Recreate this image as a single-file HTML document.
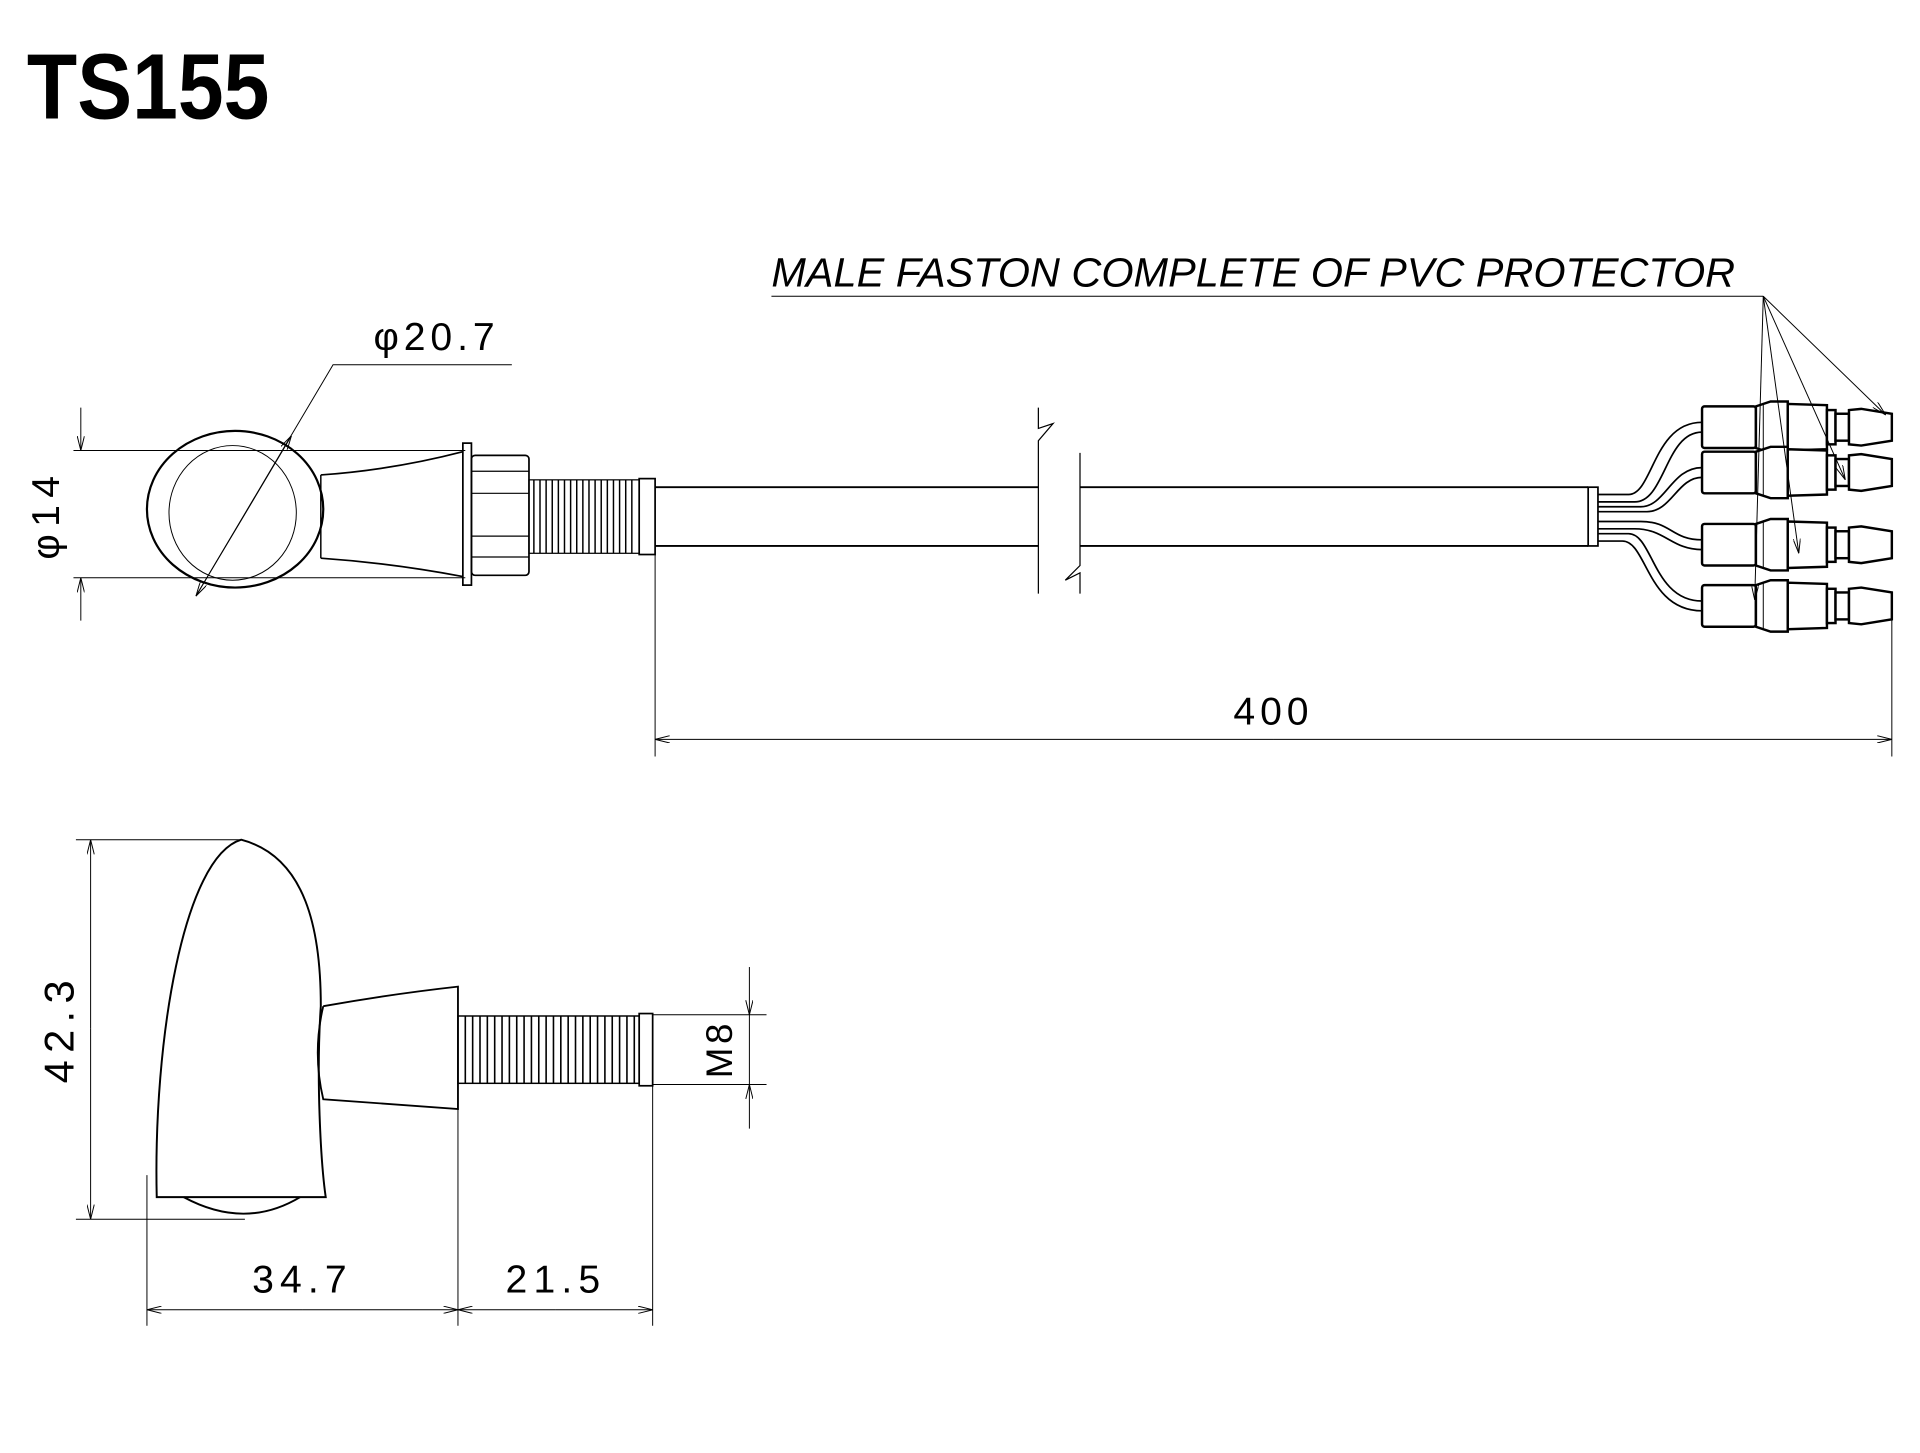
<!DOCTYPE html>
<html><head><meta charset="utf-8"><style>
html,body{margin:0;padding:0;background:#fff;}
svg{display:block;}
text{font-family:"Liberation Sans",sans-serif;fill:#000;}
</style></head><body>
<svg width="1920" height="1453" viewBox="0 0 1568 1187" preserveAspectRatio="none" xmlns="http://www.w3.org/2000/svg">
<defs>
<marker id="a" viewBox="0 0 12 6" refX="12" refY="3" markerWidth="12" markerHeight="6" orient="auto" markerUnits="userSpaceOnUse">
<path d="M0,0 L12,3 L0,6" fill="none" stroke="#000" stroke-width="0.8"/></marker>
<g id="conn" fill="#fff" stroke="#000" stroke-width="2">
<rect x="1390" y="-17" width="44" height="34" rx="2"/>
<path d="M1434,-17 L1446,-21 L1460,-21 L1460,21 L1446,21 L1434,17 Z"/>
<line x1="1440" y1="-19" x2="1440" y2="19" stroke-width="0.8"/>
<path d="M1460,-19 L1492,-18 L1492,18 L1460,19 Z"/>
<rect x="1492" y="-14" width="7" height="28"/>
<rect x="1499" y="-11" width="11" height="22"/>
<path d="M1510,-14 L1520,-15 L1545,-11 L1545,11 L1520,15 L1510,14 Z"/>
</g>
</defs>
<text x="22" y="97" font-size="76" font-weight="bold" style="font-family:'Liberation Sans Narrow','Liberation Sans',sans-serif" textLength="198" lengthAdjust="spacingAndGlyphs">TS155</text>

<g fill="none" stroke="#000">
<line x1="60" y1="368" x2="380" y2="368" stroke-width="0.8"/>
<line x1="60" y1="472" x2="380" y2="472" stroke-width="0.8"/>
<line x1="66" y1="333" x2="66" y2="368" stroke-width="0.8" marker-end="url(#a)"/>
<line x1="66" y1="507" x2="66" y2="472" stroke-width="0.8" marker-end="url(#a)"/>
<ellipse cx="192" cy="416" rx="72" ry="64" stroke-width="1.8"/>
<ellipse cx="190" cy="419" rx="52" ry="55" stroke-width="0.8"/>
<path d="M262,388 Q320,384 378,369 M262,456 Q320,460 378,471" stroke-width="1.4"/>
<line x1="262" y1="388" x2="262" y2="456" stroke-width="1.2"/>
<rect x="378" y="362" width="7" height="116" stroke-width="1.4"/>
<rect x="385" y="372" width="47" height="98" rx="3" stroke-width="1.4"/>
<path d="M385,385 H432 M385,403 H432 M385,438 H432 M385,455 H432" stroke-width="1"/>
<rect x="432" y="392" width="90" height="60" stroke-width="1"/>
<path d="M436,392 L436,452 M441,392 L441,452 M446,392 L446,452 M451,392 L451,452 M456,392 L456,452 M461,392 L461,452 M466,392 L466,452 M471,392 L471,452 M476,392 L476,452 M481,392 L481,452 M486,392 L486,452 M491,392 L491,452 M496,392 L496,452 M501,392 L501,452 M506,392 L506,452 M511,392 L511,452 M516,392 L516,452" stroke-width="1.2"/>
<rect x="522" y="391" width="13" height="62" stroke-width="1.4"/>
<path d="M535,398 H848 M882,398 H1297 M535,446 H848 M882,446 H1297" stroke-width="1.6"/>
<path d="M848,333 V350 L860,346 L848,360 V485" stroke-width="1"/>
<path d="M882,370 V462 L870,474 L882,468 V485" stroke-width="1"/>
<rect x="1297" y="398" width="8" height="48" stroke-width="1.4"/>
<g stroke-width="1.4">
<path d="M1305,404 H1330 C1350,404 1350,345 1390,345 M1305,410 H1335 C1360,410 1360,353 1390,353"/>
<path d="M1305,414 H1340 C1360,414 1365,382 1390,382 M1305,418 H1345 C1365,418 1370,390 1390,390"/>
<path d="M1305,426 H1340 C1365,426 1365,441 1390,441 M1305,432 H1335 C1360,432 1365,449 1390,449"/>
<path d="M1305,436 H1330 C1350,436 1350,491 1390,491 M1305,442 H1325 C1345,442 1345,499 1390,499"/>
</g>
<use href="#conn" y="349"/>
<use href="#conn" y="386"/>
<use href="#conn" y="445"/>
<use href="#conn" y="495"/>
<line x1="630" y1="242" x2="1440" y2="242" stroke-width="0.8"/>
<g stroke-width="0.8">
<line x1="1440" y1="242" x2="1540" y2="339" marker-end="url(#a)"/>
<line x1="1440" y1="242" x2="1507" y2="392" marker-end="url(#a)"/>
<line x1="1440" y1="242" x2="1469" y2="452" marker-end="url(#a)"/>
<line x1="1440" y1="242" x2="1433" y2="490" marker-end="url(#a)"/>
</g>
<line x1="535" y1="453" x2="535" y2="618" stroke-width="0.8"/>
<line x1="1545" y1="505" x2="1545" y2="618" stroke-width="0.8"/>
<line x1="1040" y1="604" x2="535" y2="604" stroke-width="0.8" marker-end="url(#a)"/>
<line x1="1040" y1="604" x2="1545" y2="604" stroke-width="0.8" marker-end="url(#a)"/>
<path d="M418,298 H272 L160,487" stroke-width="0.8"/>
<line x1="200" y1="420" x2="238" y2="356" stroke-width="0.8" marker-end="url(#a)"/>
<line x1="200" y1="420" x2="160" y2="487" stroke-width="0.8" marker-end="url(#a)"/>

<path d="M197,686 C150,700 125,850 128,978 L266,978 C262,950 258,880 262,822 C262,760 250,700 197,686 Z" stroke-width="1.6"/>
<path d="M150,978 Q200,1005 245,978" stroke-width="1.6"/>
<path d="M264,822 Q320,812 374,806 V906 Q320,902 264,898 Q255,860 264,822" stroke-width="1.5"/>
<rect x="374" y="830" width="148" height="55" stroke-width="1.2"/>
<path d="M380,830V885M386,830V885M392,830V885M398,830V885M404,830V885M410,830V885M416,830V885M422,830V885M428,830V885M434,830V885M440,830V885M446,830V885M452,830V885M458,830V885M464,830V885M470,830V885M476,830V885M482,830V885M488,830V885M494,830V885M500,830V885M506,830V885M512,830V885M518,830V885" stroke-width="1.3"/>
<rect x="522" y="828" width="11" height="59" stroke-width="1.4"/>
<line x1="62" y1="686" x2="197" y2="686" stroke-width="0.8"/>
<line x1="62" y1="996" x2="200" y2="996" stroke-width="0.8"/>
<line x1="74" y1="840" x2="74" y2="686" stroke-width="0.8" marker-end="url(#a)"/>
<line x1="74" y1="840" x2="74" y2="996" stroke-width="0.8" marker-end="url(#a)"/>
<line x1="533" y1="829" x2="626" y2="829" stroke-width="0.8"/>
<line x1="533" y1="886" x2="626" y2="886" stroke-width="0.8"/>
<line x1="612" y1="790" x2="612" y2="829" stroke-width="0.8" marker-end="url(#a)"/>
<line x1="612" y1="922" x2="612" y2="886" stroke-width="0.8" marker-end="url(#a)"/>
<line x1="612" y1="829" x2="612" y2="886" stroke-width="0.8"/>
<line x1="120" y1="960" x2="120" y2="1083" stroke-width="0.8"/>
<line x1="374" y1="906" x2="374" y2="1083" stroke-width="0.8"/>
<line x1="533" y1="886" x2="533" y2="1083" stroke-width="0.8"/>
<line x1="247" y1="1070" x2="120" y2="1070" stroke-width="0.8" marker-end="url(#a)"/>
<line x1="247" y1="1070" x2="374" y2="1070" stroke-width="0.8" marker-end="url(#a)"/>
<line x1="454" y1="1070" x2="374" y2="1070" stroke-width="0.8" marker-end="url(#a)"/>
<line x1="454" y1="1070" x2="533" y2="1070" stroke-width="0.8" marker-end="url(#a)"/>
</g>

<text x="630" y="234" font-size="33" font-style="italic" textLength="787" lengthAdjust="spacingAndGlyphs">MALE FASTON COMPLETE OF PVC PROTECTOR</text>
<text x="1040" y="592" font-size="32" text-anchor="middle" letter-spacing="4">400</text>
<text x="305" y="286" font-size="32" letter-spacing="4">φ20.7</text>
<text transform="translate(48,420) rotate(-90)" font-size="32" text-anchor="middle" letter-spacing="6">φ14</text>
<text transform="translate(60,840) rotate(-90)" font-size="34" text-anchor="middle" letter-spacing="6">42.3</text>
<text transform="translate(598,857) rotate(-90)" font-size="30" text-anchor="middle" letter-spacing="3">M8</text>
<text x="247" y="1056" font-size="32" text-anchor="middle" letter-spacing="5">34.7</text>
<text x="454" y="1056" font-size="32" text-anchor="middle" letter-spacing="5">21.5</text>
</svg>
</body></html>
